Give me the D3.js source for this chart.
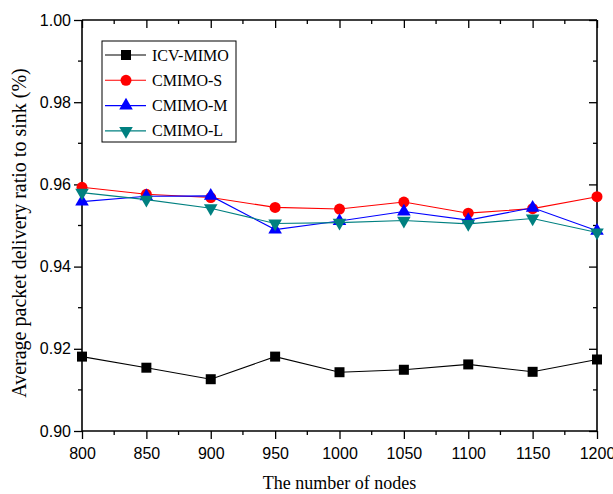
<!DOCTYPE html>
<html>
<head>
<meta charset="utf-8">
<script src="https://cdn.jsdelivr.net/npm/d3@7"></script>
<style>
  html, body { margin: 0; padding: 0; background: #fff; }
  svg { display: block; }
</style>
</head>
<body>
<script>
const nodes = [800, 850, 900, 950, 1000, 1050, 1100, 1150, 1200];
const icvMimo = [0.9181, 0.9154, 0.9126, 0.9181, 0.9143, 0.9149, 0.9162, 0.9144, 0.9174];
const cmimoS  = [0.9593, 0.9576, 0.9568, 0.9544, 0.9540, 0.9557, 0.9530, 0.9541, 0.9570];
const cmimoM  = [0.9558, 0.9571, 0.9572, 0.9490, 0.9511, 0.9534, 0.9513, 0.9543, 0.9487];
const cmimoL  = [0.9580, 0.9563, 0.9542, 0.9505, 0.9507, 0.9512, 0.9504, 0.9517, 0.9483];
const seriesNames = ["ICV-MIMO", "CMIMO-S", "CMIMO-M", "CMIMO-L"];
const xTicks = [800, 850, 900, 950, 1000, 1050, 1100, 1150, 1200];
const yTicks = [0.90, 0.92, 0.94, 0.96, 0.98, 1.00];
const xTitle = "The number of nodes";
const yTitle = "Average packet delivery ratio to sink (%)";

const W = 613, H = 494;
const margin = {left: 82, top: 20, right: 16, bottom: 63};
const pw = W - margin.left - margin.right;
const ph = H - margin.top - margin.bottom;

const svg = d3.select("body").append("svg").attr("width", W).attr("height", H);
const g = svg.append("g").attr("transform", `translate(${margin.left},${margin.top})`);

const x = d3.scaleLinear().domain([800, 1200]).range([0, pw]);
const y = d3.scaleLinear().domain([0.90, 1.00]).range([ph, 0]);

const series = [
  {name: seriesNames[0], values: icvMimo, color: "#000000", symbol: d3.symbolSquare, size: 100, rot: 0},
  {name: seriesNames[1], values: cmimoS, color: "#ff0000", symbol: d3.symbolCircle, size: 95, rot: 0},
  {name: seriesNames[2], values: cmimoM, color: "#0000ff", symbol: d3.symbolTriangle, size: 80, rot: 0},
  {name: seriesNames[3], values: cmimoL, color: "#008080", symbol: d3.symbolTriangle, size: 80, rot: 180}
];

const xMinor = d3.range(825, 1200, 50);
const yMinor = [0.91, 0.93, 0.95, 0.97, 0.99];

const sansFont = "'Liberation Sans', Arial, sans-serif";
const serifFont = "'Liberation Serif', 'Times New Roman', serif";

// Bottom axis
const axB = g.append("g").attr("transform", `translate(0,${ph})`)
  .call(d3.axisBottom(x).tickValues(xTicks).tickFormat(d3.format("d")).tickSize(8).tickPadding(9));
axB.selectAll(".tick text").style("font-family", sansFont).style("font-size", "16px").attr("fill", "#000");
axB.append("g").selectAll("line").data(xMinor).join("line")
  .attr("x1", d => x(d)).attr("x2", d => x(d)).attr("y1", 0).attr("y2", 4).attr("stroke", "#000").attr("stroke-width", 1.3);

// Left axis
const axL = g.append("g")
  .call(d3.axisLeft(y).tickValues(yTicks).tickFormat(d3.format(".2f")).tickSize(8).tickPadding(3));
axL.selectAll(".tick text").style("font-family", sansFont).style("font-size", "16px").attr("fill", "#000");
axL.append("g").selectAll("line").data(yMinor).join("line")
  .attr("y1", d => y(d)).attr("y2", d => y(d)).attr("x1", 0).attr("x2", -4).attr("stroke", "#000").attr("stroke-width", 1.3);

// Top axis (inward ticks)
const axT = g.append("g")
  .call(d3.axisTop(x).tickValues(xTicks).tickFormat("").tickSize(-8));
axT.append("g").selectAll("line").data(xMinor).join("line")
  .attr("x1", d => x(d)).attr("x2", d => x(d)).attr("y1", 0).attr("y2", 4).attr("stroke", "#000").attr("stroke-width", 1.3);

// Right axis (inward ticks)
const axR = g.append("g").attr("transform", `translate(${pw},0)`)
  .call(d3.axisRight(y).tickValues(yTicks).tickFormat("").tickSize(-8));
axR.append("g").selectAll("line").data(yMinor).join("line")
  .attr("y1", d => y(d)).attr("y2", d => y(d)).attr("x1", 0).attr("x2", -4).attr("stroke", "#000").attr("stroke-width", 1.3);

[axB, axL, axT, axR].forEach(a => {
  a.select(".domain").attr("stroke", "#000").attr("stroke-width", 1.6);
  a.selectAll(".tick line").attr("stroke", "#000").attr("stroke-width", 1.3);
});
axT.select(".domain").attr("d", `M0,0H${pw}`);
axR.select(".domain").attr("d", `M0,0V${ph}`);
axB.select(".domain").attr("d", `M0,0H${pw}`);
axL.select(".domain").attr("d", `M0,0V${ph}`);

// Series
const line = d3.line().x((d, i) => x(nodes[i])).y(d => y(d));
series.forEach(s => {
  const sg = g.append("g");
  sg.append("path").datum(s.values).attr("d", line).attr("fill", "none").attr("stroke", s.color).attr("stroke-width", 1.1);
  sg.selectAll("path.m").data(s.values).join("path").attr("class", "m")
    .attr("d", d3.symbol().type(s.symbol).size(s.size))
    .attr("transform", (d, i) => `translate(${x(nodes[i])},${y(d)}) rotate(${s.rot})`)
    .attr("fill", s.color);
});

// Legend
const lg = svg.append("g").attr("transform", "translate(102,41)");
lg.append("rect").attr("x", 0).attr("y", 0).attr("width", 134).attr("height", 101)
  .attr("fill", "#fff").attr("stroke", "#000").attr("stroke-width", 1);
series.forEach((s, i) => {
  const yy = 14 + i * 25.3;
  lg.append("line").attr("x1", 3).attr("x2", 44).attr("y1", yy).attr("y2", yy).attr("stroke", s.color).attr("stroke-width", 1.1);
  lg.append("path").attr("d", d3.symbol().type(s.symbol).size(s.size))
    .attr("transform", `translate(24,${yy}) rotate(${s.rot})`).attr("fill", s.color);
  lg.append("text").attr("x", 50).attr("y", yy + 5.5).text(s.name)
    .style("font-family", serifFont).style("font-size", "16px").attr("fill", "#000");
});

// Axis titles
svg.append("text").attr("x", margin.left + pw / 2).attr("y", 489).attr("text-anchor", "middle")
  .style("font-family", serifFont).style("font-size", "18px").text(xTitle);
svg.append("text").attr("transform", `translate(26,233) rotate(-90)`).attr("text-anchor", "middle")
  .style("font-family", serifFont).style("font-size", "20px").text(yTitle);
</script>
</body>
</html>
